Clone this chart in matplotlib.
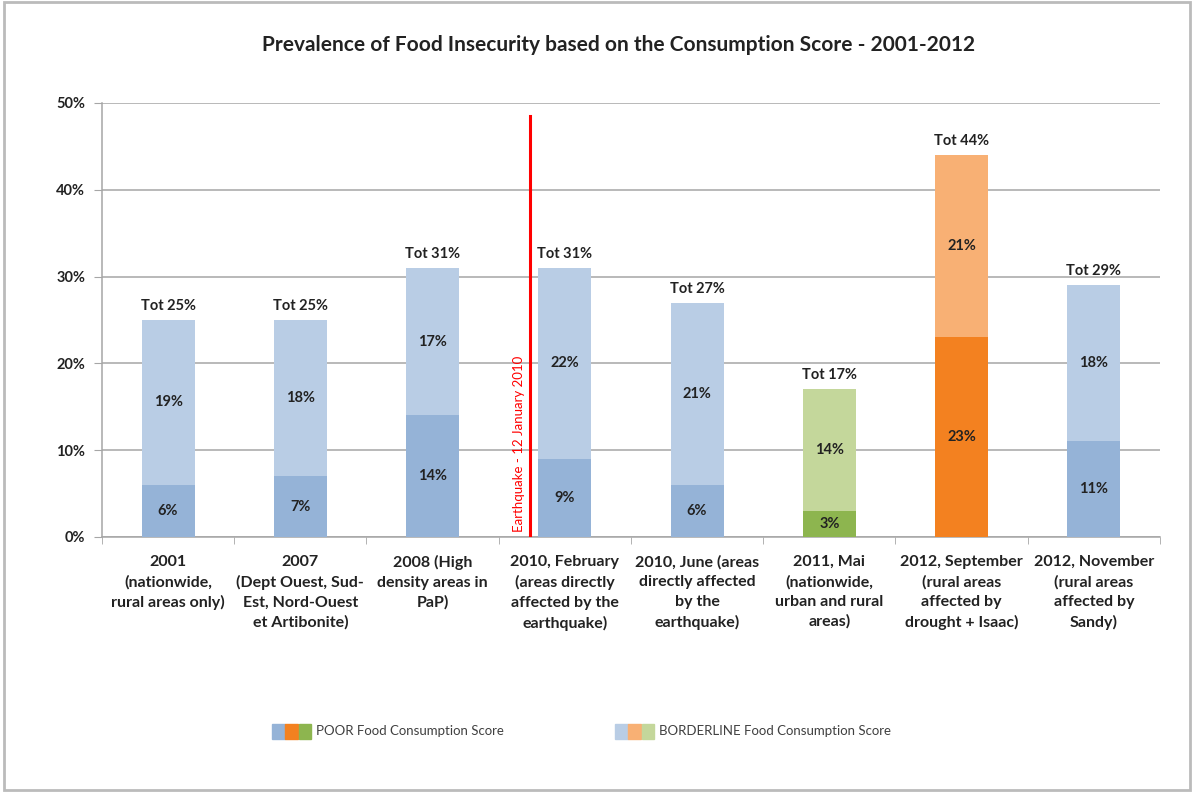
import numpy as np
import matplotlib
matplotlib.use("Agg")
import matplotlib.pyplot as plt
from matplotlib.patches import Rectangle

plt.rcParams['font.family'] = ['Lato', 'DejaVu Sans']

# data
categories = [
    "2001\n(nationwide,\nrural areas only)",
    "2007\n(Dept Ouest, Sud-\nEst, Nord-Ouest\net Artibonite)",
    "2008 (High\ndensity areas in\nPaP)",
    "2010, February\n(areas directly\naffected by the\nearthquake)",
    "2010, June (areas\ndirectly affected\nby the\nearthquake)",
    "2011, Mai\n(nationwide,\nurban and rural\nareas)",
    "2012, September\n(rural areas\naffected by\ndrought + Isaac)",
    "2012, November\n(rural areas\naffected by\nSandy)",
]
poor = [6, 7, 14, 9, 6, 3, 23, 11]
borderline = [19, 18, 17, 22, 21, 14, 21, 18]
totals = [25, 25, 31, 31, 27, 17, 44, 29]
poor_colors = ["#95B3D7"] * 5 + ["#8DB54F", "#F38120", "#95B3D7"]
border_colors = ["#B9CDE5"] * 5 + ["#C4D79B", "#F8B074", "#B9CDE5"]
quake_pos = 2.74
quake_label = "Earthquake - 12 January 2010"

fig = plt.figure(figsize=(11.94, 7.92), dpi=100)
ax = fig.add_axes([0.0854, 0.322, 0.8861, 0.548])

x = np.arange(len(categories))
w = 0.4
ax.bar(x, poor, w, color=poor_colors, zorder=3)
ax.bar(x, borderline, w, bottom=poor, color=border_colors, zorder=3)

for i in range(len(categories)):
    ax.text(x[i], poor[i] / 2, f"{poor[i]}%", ha="center", va="center",
            fontsize=10.5, fontweight="bold", color="#222222", zorder=4)
    ax.text(x[i], poor[i] + borderline[i] / 2, f"{borderline[i]}%", ha="center",
            va="center", fontsize=10.5, fontweight="bold", color="#222222", zorder=4)
    ax.text(x[i], totals[i] + 0.8, f"Tot {totals[i]}%", ha="center", va="bottom",
            fontsize=10.5, fontweight="bold", color="#222222", zorder=4)

# earthquake marker
ax.plot([quake_pos, quake_pos], [0, 48.5], color="red", lw=2.2, zorder=5)
ax.text(quake_pos - 0.085, 0.6, quake_label, rotation=90, ha="center", va="bottom",
        color="red", fontsize=9.5, zorder=5)

ax.set_xlim(-0.5, len(categories) - 0.5)
ax.set_ylim(0, 50)
ax.set_yticks(np.arange(0, 51, 10))
ax.set_yticklabels([f"{v}%" for v in range(0, 51, 10)], fontsize=10.5,
                   fontweight="bold", color="#222222")
ax.yaxis.grid(True, color="#A6A6A6", lw=1.1, zorder=0)
ax.set_axisbelow(True)

ax.set_xticks(x)
ax.set_xticklabels(categories, fontsize=11.5, fontweight="bold", color="#222222",
                   linespacing=1.5)
ax.tick_params(axis="x", length=0, pad=13)
ax.set_xticks(np.arange(-0.5, len(categories), 1), minor=True)
ax.tick_params(axis="x", which="minor", length=5, color="#A6A6A6", direction="out")
ax.tick_params(axis="y", length=6, color="#A6A6A6", pad=6)

for s in ["top", "right"]:
    ax.spines[s].set_visible(False)
for s in ["left", "bottom"]:
    ax.spines[s].set_color("#A6A6A6")
    ax.spines[s].set_linewidth(1.1)

fig.text(0.518, 0.943, "Prevalence of Food Insecurity based on the Consumption Score - 2001-2012",
         ha="center", va="center", fontsize=15, fontweight="bold", color="#222222")

# legend with three swatches per entry
sw = 0.0112
sh = 0.019
def legend_entry(x0, cols, label):
    for k, c in enumerate(cols):
        fig.patches.append(Rectangle((x0 + k * sw, 0.067), sw * 0.95, sh,
                                     transform=fig.transFigure, color=c))
    fig.text(x0 + 3 * sw + 0.003, 0.0765, label, ha="left", va="center",
             fontsize=9.5, color="#404040")

legend_entry(0.2278, ["#95B3D7", "#F38120", "#8DB54F"], "POOR Food Consumption Score")
legend_entry(0.515, ["#B9CDE5", "#F8B074", "#C4D79B"], "BORDERLINE Food Consumption Score")

# outer frame
fig.patches.append(Rectangle((0.003, 0.002), 0.994, 0.995, transform=fig.transFigure,
                             fill=False, edgecolor="#BBBBBB", lw=2))

fig.savefig("out.png", dpi=100)
